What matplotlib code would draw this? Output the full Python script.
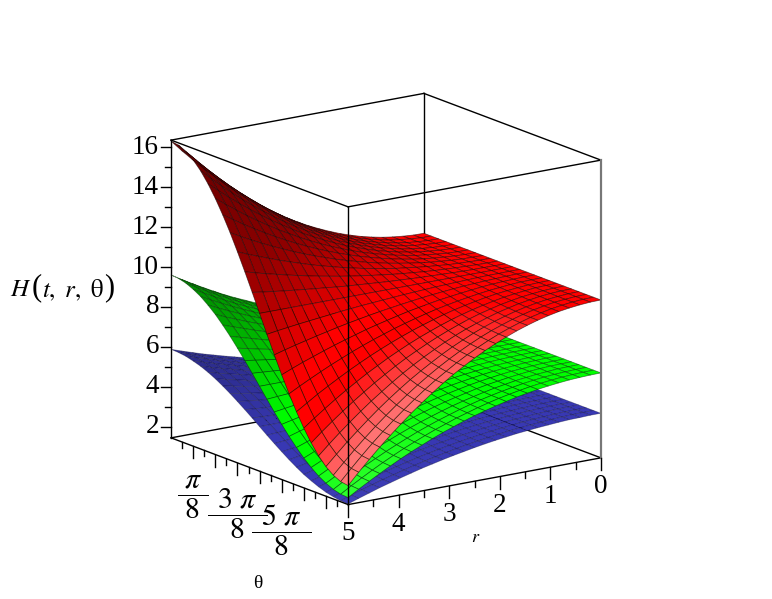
import numpy as np
import matplotlib
matplotlib.use("Agg")
import matplotlib.pyplot as plt
from mpl_toolkits.mplot3d import proj3d

plt.rcParams['font.family'] = ['Liberation Serif', 'DejaVu Serif']
plt.rcParams['mathtext.fontset'] = 'stix'

r_values = [i*5/24 for i in range(25)]
theta_values = [k*np.pi/24 for k in range(25)]

H_red = [
 [9.35]*25,
 [9.36,9.36,9.36,9.36,9.36,9.36,9.36,9.36,9.36,9.35,9.35,9.35,9.35,9.35,9.35,9.35,9.34,9.34,9.34,9.34,9.34,9.34,9.34,9.34,9.34],
 [9.40,9.40,9.40,9.40,9.39,9.39,9.38,9.38,9.37,9.37,9.36,9.36,9.35,9.34,9.34,9.33,9.33,9.32,9.32,9.31,9.31,9.30,9.30,9.30,9.30],
 [9.46,9.46,9.45,9.45,9.44,9.44,9.43,9.42,9.40,9.39,9.38,9.36,9.35,9.34,9.32,9.31,9.30,9.28,9.27,9.26,9.26,9.25,9.25,9.24,9.24],
 [9.54,9.54,9.54,9.53,9.52,9.50,9.49,9.47,9.45,9.42,9.40,9.37,9.35,9.33,9.30,9.28,9.25,9.23,9.21,9.20,9.18,9.17,9.16,9.16,9.16],
 [9.65,9.65,9.64,9.63,9.61,9.59,9.56,9.53,9.50,9.47,9.43,9.39,9.35,9.31,9.27,9.24,9.20,9.17,9.14,9.11,9.09,9.07,9.06,9.05,9.05],
 [9.78,9.78,9.77,9.75,9.73,9.69,9.66,9.61,9.57,9.52,9.46,9.41,9.35,9.29,9.24,9.18,9.13,9.09,9.04,9.01,8.97,8.95,8.93,8.92,8.92],
 [9.94,9.94,9.92,9.90,9.86,9.82,9.77,9.71,9.65,9.58,9.50,9.43,9.35,9.27,9.20,9.12,9.05,8.99,8.93,8.88,8.84,8.80,8.78,8.76,8.76],
 [10.12,10.12,10.10,10.06,10.02,9.96,9.90,9.82,9.74,9.65,9.55,9.45,9.35,9.25,9.15,9.05,8.96,8.88,8.80,8.74,8.68,8.64,8.60,8.58,8.58],
 [10.33,10.32,10.29,10.25,10.20,10.13,10.04,9.95,9.84,9.72,9.60,9.48,9.35,9.22,9.10,8.98,8.86,8.76,8.66,8.58,8.50,8.45,8.41,8.38,8.37],
 [10.56,10.55,10.52,10.47,10.40,10.31,10.20,10.09,9.95,9.81,9.66,9.51,9.35,9.19,9.04,8.89,8.75,8.62,8.50,8.39,8.31,8.24,8.19,8.15,8.14],
 [10.81,10.80,10.76,10.70,10.61,10.51,10.38,10.24,10.08,9.91,9.73,9.54,9.35,9.16,8.97,8.79,8.62,8.46,8.32,8.19,8.09,8.00,7.94,7.90,7.89],
 [11.09,11.07,11.03,10.96,10.86,10.73,10.58,10.41,10.22,10.01,9.80,9.58,9.35,9.12,8.90,8.69,8.48,8.29,8.12,7.97,7.85,7.75,7.67,7.63,7.61],
 [11.39,11.37,11.32,11.23,11.12,10.97,10.79,10.59,10.37,10.13,9.88,9.62,9.35,9.08,8.82,8.57,8.33,8.11,7.91,7.73,7.58,7.47,7.38,7.33,7.31],
 [11.72,11.69,11.63,11.53,11.40,11.23,11.02,10.79,10.53,10.25,9.96,9.66,9.35,9.04,8.74,8.44,8.17,7.91,7.68,7.47,7.30,7.16,7.07,7.00,6.99],
 [12.06,12.04,11.97,11.86,11.70,11.50,11.27,11.00,10.71,10.39,10.05,9.70,9.35,9.00,8.65,8.31,7.99,7.70,7.43,7.20,7.00,6.84,6.73,6.66,6.64],
 [12.44,12.41,12.33,12.20,12.03,11.80,11.53,11.23,10.89,10.53,10.15,9.75,9.35,8.95,8.55,8.17,7.81,7.47,7.17,6.90,6.68,6.50,6.37,6.29,6.26],
 [12.84,12.81,12.72,12.57,12.37,12.12,11.82,11.47,11.09,10.68,10.25,9.81,9.35,8.90,8.45,8.01,7.61,7.23,6.88,6.58,6.33,6.13,5.98,5.89,5.86],
 [13.26,13.23,13.13,12.96,12.74,12.45,12.11,11.73,11.30,10.85,10.36,9.86,9.35,8.84,8.34,7.85,7.40,6.97,6.59,6.25,5.96,5.74,5.57,5.47,5.44],
 [13.71,13.67,13.56,13.37,13.12,12.81,12.43,12.00,11.53,11.02,10.48,9.92,9.35,8.78,8.22,7.68,7.17,6.70,6.27,5.89,5.58,5.33,5.14,5.03,4.99],
 [14.18,14.14,14.01,13.81,13.53,13.18,12.76,12.29,11.76,11.20,10.60,9.98,9.35,8.72,8.10,7.50,6.94,6.41,5.94,5.52,5.17,4.89,4.69,4.57,4.52],
 [14.67,14.63,14.49,14.27,13.96,13.57,13.11,12.59,12.01,11.39,10.73,10.04,9.35,8.66,7.97,7.31,6.69,6.11,5.59,5.13,4.74,4.43,4.21,4.08,4.03],
 [15.19,15.14,14.99,14.75,14.41,13.98,13.48,12.91,12.27,11.59,10.86,10.11,9.35,8.59,7.84,7.12,6.43,5.80,5.22,4.72,4.29,3.96,3.71,3.56,3.51],
 [15.73,15.68,15.52,15.25,14.88,14.41,13.86,13.24,12.54,11.79,11.00,10.18,9.35,8.52,7.70,6.91,6.16,5.46,4.84,4.29,3.82,3.45,3.18,3.02,2.97],
 [16.30,16.24,16.06,15.77,15.37,14.86,14.26,13.58,12.83,12.01,11.15,10.26,9.35,8.44,7.55,6.69,5.88,5.12,4.44,3.84,3.33,2.93,2.64,2.46,2.40],
]
H_green = [
 [5.70]*25,
 [5.71,5.71,5.71,5.71,5.71,5.71,5.70,5.70,5.70,5.70,5.70,5.70,5.70,5.70,5.70,5.70,5.70,5.70,5.70,5.69,5.69,5.69,5.69,5.69,5.69],
 [5.73,5.73,5.73,5.73,5.72,5.72,5.72,5.72,5.71,5.71,5.71,5.70,5.70,5.70,5.69,5.69,5.69,5.68,5.68,5.68,5.68,5.68,5.67,5.67,5.67],
 [5.76,5.76,5.76,5.76,5.75,5.75,5.74,5.74,5.73,5.72,5.72,5.71,5.70,5.69,5.68,5.68,5.67,5.66,5.66,5.65,5.65,5.64,5.64,5.64,5.64],
 [5.81,5.81,5.80,5.80,5.79,5.79,5.78,5.77,5.75,5.74,5.73,5.71,5.70,5.69,5.67,5.66,5.65,5.63,5.62,5.61,5.61,5.60,5.60,5.59,5.59],
 [5.87,5.87,5.86,5.86,5.85,5.83,5.82,5.80,5.78,5.77,5.74,5.72,5.70,5.68,5.66,5.64,5.62,5.60,5.58,5.57,5.55,5.54,5.54,5.53,5.53],
 [5.94,5.94,5.94,5.93,5.91,5.89,5.87,5.85,5.82,5.79,5.76,5.73,5.70,5.67,5.64,5.61,5.58,5.55,5.53,5.51,5.49,5.48,5.47,5.46,5.46],
 [6.03,6.03,6.02,6.01,5.99,5.96,5.93,5.90,5.87,5.83,5.79,5.74,5.70,5.66,5.61,5.57,5.53,5.50,5.47,5.44,5.41,5.39,5.38,5.37,5.37],
 [6.13,6.13,6.12,6.10,6.08,6.04,6.01,5.96,5.92,5.87,5.81,5.76,5.70,5.64,5.59,5.53,5.48,5.44,5.39,5.36,5.33,5.30,5.28,5.27,5.27],
 [6.25,6.24,6.23,6.21,6.18,6.14,6.09,6.03,5.97,5.91,5.84,5.77,5.70,5.63,5.56,5.49,5.43,5.37,5.31,5.27,5.23,5.19,5.17,5.16,5.15],
 [6.38,6.37,6.35,6.33,6.29,6.24,6.18,6.11,6.04,5.96,5.88,5.79,5.70,5.61,5.53,5.44,5.36,5.29,5.22,5.16,5.11,5.07,5.05,5.03,5.02],
 [6.52,6.51,6.49,6.46,6.41,6.35,6.28,6.20,6.11,6.01,5.91,5.81,5.70,5.59,5.49,5.39,5.29,5.20,5.12,5.05,4.99,4.94,4.91,4.89,4.88],
 [6.68,6.67,6.64,6.60,6.54,6.47,6.39,6.29,6.19,6.07,5.95,5.83,5.70,5.57,5.45,5.33,5.21,5.11,5.01,4.93,4.86,4.80,4.76,4.73,4.73],
 [6.84,6.83,6.81,6.76,6.69,6.61,6.51,6.40,6.27,6.14,6.00,5.85,5.70,5.55,5.40,5.26,5.13,5.00,4.89,4.79,4.71,4.64,4.59,4.57,4.56],
 [7.03,7.02,6.98,6.93,6.85,6.75,6.64,6.51,6.36,6.21,6.04,5.87,5.70,5.53,5.36,5.19,5.04,4.89,4.76,4.65,4.55,4.47,4.42,4.38,4.37],
 [7.22,7.21,7.17,7.11,7.02,6.91,6.78,6.63,6.46,6.28,6.09,5.90,5.70,5.50,5.31,5.12,4.94,4.77,4.62,4.49,4.38,4.29,4.23,4.19,4.18],
 [7.43,7.42,7.37,7.30,7.20,7.08,6.93,6.76,6.57,6.36,6.15,5.93,5.70,5.47,5.25,5.04,4.83,4.65,4.47,4.33,4.20,4.10,4.03,3.98,3.97],
 [7.66,7.64,7.59,7.51,7.40,7.25,7.08,6.89,6.68,6.45,6.21,5.96,5.70,5.44,5.19,4.95,4.72,4.51,4.32,4.15,4.00,3.89,3.81,3.76,3.74],
 [7.89,7.88,7.82,7.73,7.60,7.44,7.25,7.04,6.80,6.54,6.27,5.99,5.70,5.41,5.13,4.86,4.60,4.36,4.15,3.96,3.80,3.67,3.58,3.53,3.51],
 [8.14,8.12,8.06,7.96,7.82,7.64,7.43,7.19,6.92,6.64,6.33,6.02,5.70,5.38,5.07,4.77,4.48,4.21,3.97,3.76,3.58,3.44,3.34,3.28,3.26],
 [8.41,8.39,8.32,8.20,8.05,7.85,7.62,7.35,7.05,6.74,6.40,6.05,5.70,5.35,5.00,4.66,4.35,4.05,3.79,3.55,3.36,3.20,3.08,3.02,2.99],
 [8.69,8.66,8.58,8.46,8.29,8.07,7.81,7.52,7.19,6.84,6.47,6.09,5.70,5.31,4.93,4.56,4.21,3.88,3.59,3.33,3.11,2.94,2.82,2.74,2.71],
 [8.98,8.95,8.87,8.73,8.54,8.30,8.02,7.70,7.34,6.95,6.55,6.13,5.70,5.27,4.85,4.45,4.06,3.70,3.38,3.10,2.86,2.67,2.53,2.45,2.42],
 [9.28,9.25,9.16,9.01,8.80,8.54,8.23,7.88,7.49,7.07,6.63,6.17,5.70,5.23,4.77,4.33,3.91,3.52,3.17,2.86,2.60,2.39,2.24,2.15,2.12],
 [9.60,9.57,9.47,9.30,9.08,8.79,8.46,8.07,7.65,7.19,6.71,6.21,5.70,5.19,4.69,4.21,3.75,3.33,2.94,2.61,2.32,2.10,1.93,1.83,1.80],
]
H_blue = [
 [3.68]*25,
 [3.68]*25,
 [3.70,3.70,3.69,3.69,3.69,3.69,3.69,3.69,3.69,3.69,3.68,3.68,3.68,3.68,3.68,3.67,3.67,3.67,3.67,3.67,3.67,3.67,3.67,3.67,3.66],
 [3.71,3.71,3.71,3.71,3.71,3.71,3.70,3.70,3.70,3.69,3.69,3.68,3.68,3.68,3.67,3.67,3.66,3.66,3.66,3.65,3.65,3.65,3.65,3.65,3.65],
 [3.74,3.74,3.74,3.74,3.73,3.73,3.72,3.72,3.71,3.70,3.70,3.69,3.68,3.67,3.66,3.66,3.65,3.64,3.64,3.63,3.63,3.62,3.62,3.62,3.62],
 [3.78,3.77,3.77,3.77,3.76,3.76,3.75,3.74,3.73,3.72,3.70,3.69,3.68,3.67,3.66,3.64,3.63,3.62,3.61,3.60,3.60,3.59,3.59,3.58,3.58],
 [3.82,3.82,3.81,3.81,3.80,3.79,3.78,3.76,3.75,3.73,3.72,3.70,3.68,3.66,3.64,3.63,3.61,3.60,3.58,3.57,3.56,3.55,3.55,3.54,3.54],
 [3.87,3.87,3.86,3.85,3.84,3.83,3.81,3.79,3.77,3.75,3.73,3.70,3.68,3.66,3.63,3.61,3.59,3.57,3.55,3.53,3.52,3.51,3.50,3.49,3.49],
 [3.92,3.92,3.92,3.91,3.89,3.87,3.85,3.83,3.80,3.77,3.74,3.71,3.68,3.65,3.62,3.59,3.56,3.53,3.51,3.49,3.47,3.45,3.44,3.44,3.44],
 [3.99,3.99,3.98,3.97,3.95,3.93,3.90,3.87,3.83,3.80,3.76,3.72,3.68,3.64,3.60,3.56,3.53,3.49,3.46,3.44,3.41,3.39,3.38,3.37,3.37],
 [4.06,4.06,4.05,4.03,4.01,3.98,3.95,3.91,3.87,3.83,3.78,3.73,3.68,3.63,3.58,3.53,3.49,3.45,3.41,3.38,3.35,3.33,3.31,3.30,3.30],
 [4.14,4.14,4.13,4.11,4.08,4.05,4.01,3.96,3.91,3.86,3.80,3.74,3.68,3.62,3.56,3.50,3.45,3.40,3.35,3.31,3.28,3.25,3.23,3.22,3.22],
 [4.23,4.23,4.21,4.19,4.16,4.12,4.07,4.02,3.96,3.89,3.82,3.75,3.68,3.61,3.54,3.47,3.41,3.35,3.29,3.24,3.20,3.17,3.15,3.14,3.13],
 [4.33,4.32,4.30,4.28,4.24,4.19,4.14,4.07,4.00,3.93,3.85,3.76,3.68,3.60,3.51,3.43,3.36,3.29,3.22,3.17,3.12,3.08,3.06,3.04,3.03],
 [4.43,4.42,4.40,4.37,4.33,4.27,4.21,4.14,4.05,3.97,3.87,3.78,3.68,3.58,3.49,3.39,3.31,3.22,3.15,3.09,3.03,2.99,2.96,2.94,2.93],
 [4.54,4.53,4.51,4.47,4.42,4.36,4.29,4.20,4.11,4.01,3.90,3.79,3.68,3.57,3.46,3.35,3.25,3.16,3.07,3.00,2.94,2.89,2.85,2.83,2.82],
 [4.66,4.65,4.62,4.58,4.53,4.46,4.37,4.28,4.17,4.05,3.93,3.81,3.68,3.55,3.43,3.31,3.19,3.09,2.99,2.90,2.83,2.78,2.74,2.71,2.70],
 [4.78,4.77,4.75,4.70,4.64,4.56,4.46,4.35,4.23,4.10,3.97,3.82,3.68,3.54,3.39,3.26,3.13,3.01,2.90,2.80,2.72,2.66,2.61,2.59,2.58],
 [4.92,4.91,4.87,4.82,4.75,4.66,4.56,4.43,4.30,4.15,4.00,3.84,3.68,3.52,3.36,3.21,3.06,2.93,2.81,2.70,2.61,2.54,2.48,2.45,2.44],
 [5.06,5.05,5.01,4.95,4.87,4.77,4.65,4.52,4.37,4.21,4.04,3.86,3.68,3.50,3.32,3.15,2.99,2.84,2.71,2.59,2.49,2.41,2.35,2.31,2.30],
 [5.21,5.19,5.16,5.09,5.00,4.89,4.76,4.61,4.44,4.26,4.08,3.88,3.68,3.48,3.28,3.10,2.92,2.75,2.60,2.47,2.36,2.27,2.20,2.17,2.15],
 [5.36,5.35,5.31,5.24,5.14,5.02,4.87,4.71,4.52,4.33,4.12,3.90,3.68,3.46,3.24,3.04,2.84,2.65,2.49,2.34,2.22,2.12,2.05,2.01,2.00],
 [5.53,5.51,5.47,5.39,5.28,5.15,4.99,4.80,4.60,4.39,4.16,3.92,3.68,3.44,3.20,2.97,2.76,2.55,2.37,2.21,2.08,1.97,1.89,1.85,1.83],
 [5.70,5.68,5.63,5.55,5.43,5.28,5.11,4.91,4.69,4.45,4.20,3.94,3.68,3.42,3.16,2.91,2.67,2.45,2.25,2.08,1.93,1.81,1.73,1.68,1.66],
 [5.88,5.86,5.81,5.71,5.59,5.43,5.24,5.02,4.78,4.52,4.25,3.97,3.68,3.39,3.11,2.84,2.58,2.34,2.12,1.94,1.78,1.65,1.56,1.50,1.48],
]

r_major = [0, 1, 2, 3, 4, 5]
r_minor = [0.5, 1.5, 2.5, 3.5, 4.5]
theta_major = [k*np.pi/8 for k in range(1, 8)]
theta_minor = [k*np.pi/16 for k in range(1, 16, 2)]
theta_labelled = [np.pi/8, 3*np.pi/8, 5*np.pi/8]
theta_labels = [r'$\dfrac{\ \pi\ }{8}$', r'$\dfrac{\ \,3\ \pi\,\ }{8}$', r'$\dfrac{\ \,5\ \pi\,\ }{8}$']
z_major = [2, 4, 6, 8, 10, 12, 14, 16]
z_minor = [3, 5, 7, 9, 11, 13, 15]

ZMIN, ZMAX = 1.45, 16.35
RMAX, TMAX = 5.0, np.pi
AZ, EL = 55.0, 15.3

W, H_px = 772, 599
S = 519.0
fig = plt.figure(figsize=(W/100, H_px/100), dpi=100)
ax = fig.add_axes([119.5/W, 33.5/H_px, S/W, S/H_px], projection='3d', computed_zorder=False)
ax.set_proj_type('ortho')
ax.view_init(elev=EL, azim=AZ)
ax.set_box_aspect((1, 1, 1))
ax.set_xlim(0, RMAX, view_margin=0)
ax.set_ylim(0, TMAX, view_margin=0)
ax.set_zlim(ZMIN, ZMAX, view_margin=0)
ax.set_axis_off()

R, T = np.meshgrid(np.array(r_values), np.array(theta_values), indexing='ij')


def shaded(Z, base, white_gain):
    Z = np.array(Z, float)
    dx, dy = np.gradient((Z-ZMIN)/(ZMAX-ZMIN), np.array(r_values)/RMAX, np.array(theta_values)/TMAX)
    n = np.stack([-dx, -dy, np.ones_like(Z)], axis=-1)
    n /= np.linalg.norm(n, axis=-1, keepdims=True)
    I = n @ np.array([0.85, -0.1, 0.5])
    b = np.interp(I, [-0.25, 0.05, 0.3, 0.45], [0.4, 0.55, 0.85, 1.0])
    w = np.clip((I-0.62)/0.25, 0, 1)*white_gain
    col = np.array(base)[None, None, :]*b[..., None]
    col = col + (1-col)*w[..., None]
    return np.clip(col, 0, 1)


surfaces = [
    (H_blue, (0.22, 0.22, 0.70), 0.08, (0, 0, 0.15, 0.35), 2),
    (H_green, (0.0, 1.0, 0.0), 0.22, (0, 0.2, 0, 0.55), 3),
    (H_red, (1.0, 0.0, 0.0), 0.45, (0.1, 0, 0, 0.6), 4),
]
for Z, base, gain, edge, zo in surfaces:
    s = ax.plot_surface(R, T, np.array(Z), rstride=1, cstride=1,
                        facecolors=shaded(Z, base, gain), shade=False,
                        antialiased=True, zorder=zo)
    s.set_edgecolor(edge)
    s.set_linewidth(0.55)

LC = 'black'
LW = 1.0
back_edges = [
    ((0, 0), (0, 0), (ZMIN, ZMAX)),
    ((0, RMAX), (0, 0), (ZMIN, ZMIN)),
    ((0, 0), (0, TMAX), (ZMIN, ZMIN)),
]
front_edges = [
    ((RMAX, RMAX), (TMAX, TMAX), (ZMIN, ZMAX)),
    ((RMAX, RMAX), (0, 0), (ZMIN, ZMAX)),
    ((RMAX, 0), (TMAX, TMAX), (ZMIN, ZMIN)),
    ((RMAX, RMAX), (0, TMAX), (ZMIN, ZMIN)),
    ((RMAX, 0), (TMAX, TMAX), (ZMAX, ZMAX)),
    ((RMAX, RMAX), (0, TMAX), (ZMAX, ZMAX)),
    ((0, RMAX), (0, 0), (ZMAX, ZMAX)),
    ((0, 0), (0, TMAX), (ZMAX, ZMAX)),
]
for e in back_edges:
    ax.plot(*e, color=LC, lw=LW, zorder=1)
for e in front_edges:
    ax.plot(*e, color=LC, lw=LW, zorder=6)
ax.plot((0, 0), (TMAX, TMAX), (ZMIN, ZMAX), color='#777777', lw=1.6, zorder=6)

PX_Z = 20.0
major_drop = 12/PX_Z
minor_drop = 6/PX_Z
label_drop = 29/PX_Z
frac_drop = 51/PX_Z


def label3d(x, y, z, s, **kw):
    # place a text at a projected 3D position so that its extent is true
    px, py, _ = proj3d.proj_transform(x, y, z, ax.get_proj())
    ax.text2D(px, py, s, transform=ax.transData, zorder=7, clip_on=False, **kw)


for v in r_major:
    ax.plot((v, v), (TMAX, TMAX), (ZMIN, ZMIN-major_drop), color=LC, lw=LW, zorder=6)
    label3d(v, TMAX, ZMIN-label_drop, str(v), fontsize=19.5, ha='center', va='center')
for v in r_minor:
    ax.plot((v, v), (TMAX, TMAX), (ZMIN, ZMIN-minor_drop), color=LC, lw=LW, zorder=6)
for v in theta_major:
    ax.plot((RMAX, RMAX), (v, v), (ZMIN, ZMIN-major_drop), color=LC, lw=LW, zorder=6)
for v in theta_minor:
    ax.plot((RMAX, RMAX), (v, v), (ZMIN, ZMIN-minor_drop), color=LC, lw=LW, zorder=6)
for v, lab in zip(theta_labelled, theta_labels):
    label3d(RMAX, v, ZMIN-frac_drop, lab, fontsize=21.5, ha='center', va='center')

ux = np.sin(np.radians(AZ))*RMAX/308.8
uy = -np.cos(np.radians(AZ))*TMAX/308.8
for v in z_major:
    ax.plot((RMAX, RMAX+10*ux), (0, 10*uy), (v, v), color=LC, lw=LW, zorder=6)
    label3d(RMAX+12*ux, 12*uy, v, str(v), fontsize=19.5, ha='right', va='center')
for v in z_minor:
    ax.plot((RMAX, RMAX+6*ux), (0, 6*uy), (v, v), color=LC, lw=LW, zorder=6)

fig.text(10/W, 1-290/H_px, r'$H$', fontsize=18, ha='left', va='center')
fig.text(37/W, 1-288/H_px, '(', fontsize=22, ha='center', va='center')
fig.text(73.5/W, 1-290/H_px, r'$t,\ r,\ \mathrm{\theta}$', fontsize=18, ha='center', va='center')
fig.text(109.5/W, 1-288/H_px, ')', fontsize=22, ha='center', va='center')
fig.text(258/W, 1-584/H_px, 'θ', fontsize=14, ha='center', va='center')
fig.text(476/W, 1-538/H_px, r'$r$', fontsize=13, ha='center', va='center')

fig.savefig('out.png', dpi=100)
